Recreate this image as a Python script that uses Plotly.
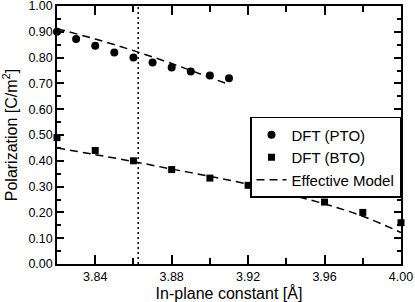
import plotly.graph_objects as go

pto_x = [3.82, 3.83, 3.84, 3.85, 3.86, 3.87, 3.88, 3.89, 3.90, 3.91]
pto_y = [0.900, 0.872, 0.846, 0.820, 0.800, 0.781, 0.762, 0.746, 0.731, 0.720]

bto_x = [3.82, 3.84, 3.86, 3.88, 3.90, 3.92, 3.94, 3.96, 3.98, 4.00]
bto_y = [0.490, 0.440, 0.400, 0.366, 0.333, 0.305, 0.273, 0.240, 0.200, 0.160]

pto_model_x = [3.82, 3.84, 3.86, 3.88, 3.90, 3.91]
pto_model_y = [0.912, 0.872, 0.827, 0.777, 0.723, 0.696]

bto_model_x = [3.82, 3.84, 3.86, 3.88, 3.90, 3.92, 3.94, 3.96, 3.98, 4.00]
bto_model_y = [0.450, 0.424, 0.397, 0.368, 0.340, 0.309, 0.272, 0.233, 0.185, 0.122]

vline_x = 3.8625

x_ticks = [3.84, 3.88, 3.92, 3.96, 4.00]
y_ticks = [0.0, 0.1, 0.2, 0.3, 0.4, 0.5, 0.6, 0.7, 0.8, 0.9, 1.0]

FONT = "Liberation Sans, Arial, Helvetica, sans-serif"

fig = go.Figure()
fig.add_trace(go.Scatter(x=pto_x, y=pto_y, mode="markers", name="DFT (PTO)",
                         marker=dict(symbol="circle", size=8, color="black"), cliponaxis=False))
fig.add_trace(go.Scatter(x=bto_x, y=bto_y, mode="markers", name="DFT (BTO)",
                         marker=dict(symbol="square", size=7, color="black"), cliponaxis=False))
fig.add_trace(go.Scatter(x=pto_model_x, y=pto_model_y, mode="lines", name="Effective Model",
                         line=dict(color="black", width=1.5, dash="8px,5px"), line_shape="spline"))
fig.add_trace(go.Scatter(x=bto_model_x, y=bto_model_y, mode="lines", showlegend=False,
                         line=dict(color="black", width=1.5, dash="8px,5px"), line_shape="spline"))
fig.add_shape(type="line", x0=vline_x, x1=vline_x, y0=0, y1=1, xref="x", yref="y",
              line=dict(color="black", width=1.5, dash="2px,3px"))

axis_common = dict(showline=True, linecolor="black", linewidth=1.5, mirror="allticks",
                   ticks="inside", tickcolor="black", tickwidth=1.5, showgrid=False,
                   zeroline=False, automargin=False, ticklabeloverflow="allow",
                   tickfont=dict(family=FONT, size=12.5, color="black"))

fig.update_xaxes(range=[3.82, 4.00], tickvals=x_ticks,
                 ticktext=[f"{v:.2f}" for v in x_ticks], ticklen=9,
                 minor=dict(dtick=0.02, tick0=3.82, ticks="inside", ticklen=6,
                            tickcolor="black", tickwidth=1.5),
                 title=dict(text="In-plane constant [Å]", font=dict(family=FONT, size=16, color="black")),
                 **axis_common)
fig.update_yaxes(range=[0, 1.0], tickvals=y_ticks,
                 ticktext=[f"{v:.2f}" for v in y_ticks], ticklen=7,
                 minor=dict(dtick=0.05, tick0=0, ticks="inside", ticklen=4,
                            tickcolor="black", tickwidth=1.5),
                 title=dict(text="Polarization [C/m<sup>2</sup>]", font=dict(family=FONT, size=16, color="black")),
                 **axis_common)

fig.update_layout(
    width=415, height=302,
    margin=dict(l=57, r=14, t=6, b=38),
    paper_bgcolor="white", plot_bgcolor="white",
    showlegend=True,
    legend=dict(x=1, xanchor="right", y=0.57, yanchor="top",
                bgcolor="white", bordercolor="black", borderwidth=1.5,
                font=dict(family=FONT, size=15, color="black"),
                tracegroupgap=0, itemwidth=30),
)

fig.write_html("out.html", config={"displayModeBar": False},
               post_script="document.body.style.margin='0';document.body.style.padding='0';")
